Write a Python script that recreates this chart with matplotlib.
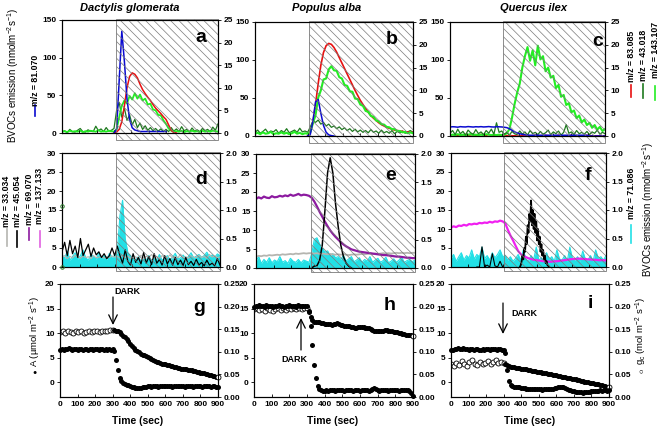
import numpy as np
import matplotlib
matplotlib.use("Agg")
import matplotlib.pyplot as plt
from matplotlib.patches import Rectangle, FancyArrowPatch
from matplotlib.lines import Line2D
from matplotlib.ticker import FormatStrFormatter

plt.rcParams['font.family'] = ['Liberation Sans', 'DejaVu Sans']
plt.rcParams['font.weight'] = 'bold'
plt.rcParams['mathtext.default'] = 'regular'
plt.rcParams['hatch.linewidth'] = 0.5
plt.rcParams['hatch.color'] = '#7a7a7a'

# ---------------- data ----------------
dark_start = 310
species = ["Dactylis glomerata", "Populus alba", "Quercus ilex"]

# Row 1 (left axis: nmol m-2 s-1 0-150 ; right axis 0-25), 15 s sampling
a_blue_start = 300
a_blue = [0, 5, 70, 135, 95, 45, 18, 7, 4, 3, 2, 2, 2, 2, 2, 2, 2, 2, 2, 2, 2]
a_red_start = 300
a_red = [0, 0.2, 0.8, 2.5, 6, 10, 12.5, 13.3, 13, 12.2, 10.8, 9.6, 8.7, 7.9, 7.2, 6.3,
         5.5, 4.9, 4.3, 3.6, 3.0, 1.8, 0.6, 0.1, 0]
a_lgreen = [0.3, 0.4, 0.2, 0.5, 0.3, 0.4, 0.3, 0.5, 0.2, 0.4, 0.3, 0.5, 0.4, 0.3, 0.6, 0.3, 0.4, 0.3, 0.5, 0.4, 0.3,
            0.8, 3.5, 6.0, 7.2, 6.5, 8.2, 7.4, 8.8, 7.6, 8.5, 7.2, 7.6, 6.3, 6.5, 5.2, 5.0, 4.0, 3.9, 2.8, 2.0,
            1.0, 0.5, 0.3,
            0.4, 0.3, 0.5, 0.2, 0.4, 0.3, 0.5, 0.3, 0.4, 0.2, 0.5, 0.3, 0.4, 0.3, 0.5, 0.4, 0.3]
a_dgreen = [0.2, 0.5, 0.1, 0.8, 0.3, 0.2, 0.6, 1.0, 0.3, 0.2, 0.7, 0.4, 0.3, 1.5, 0.5, 0.9, 0.3, 1.2, 0.4, 0.6, 1.0,
            5.0, 6.8, 3.5, 5.5, 2.8, 4.0, 1.8, 3.0, 1.2, 2.2, 0.8, 1.6, 0.6, 1.2, 0.5, 1.0, 0.4, 0.9, 0.3, 0.8,
            0.3, 1.2, 0.4,
            0.9, 0.3, 1.4, 0.5, 0.8, 0.2, 1.1, 0.4, 0.7, 0.3, 1.0, 0.5, 0.8, 0.3, 1.3, 0.6, 2.0]

b_blue_start = 300
b_blue = [0, 2, 20, 45, 48, 30, 14, 5, 1.5, 0.5, 0]
b_red_start = 300
b_red = [0, 1.0, 3.0, 7.0, 11.5, 15.5, 18.3, 19.8, 20.3, 20.1, 19.4, 18.4, 17.2, 16.0, 14.8, 13.6, 12.4,
         11.2, 10.0, 8.9, 7.8, 6.9, 6.0, 5.2, 4.5, 3.9, 3.4, 2.9, 2.5, 2.2, 1.9, 1.7, 1.5, 1.3, 1.2,
         1.1, 1.0, 0.9, 0.9, 0.8, 0.8]
b_lgreen = [0.5, 0.7, 0.4, 0.8, 0.5, 0.6, 0.9, 0.4, 0.6, 0.5, 0.8, 0.5, 0.7, 0.4, 0.6, 0.9, 0.5, 0.7, 0.4, 0.6, 0.5,
            0.8, 2.8, 4.6, 8.4, 10.0, 12.4, 12.6, 14.6, 15.3, 14.4, 14.3, 12.9, 12.6, 11.2, 11.0, 9.8, 9.7,
            8.2, 8.1, 6.9, 6.6, 5.5, 5.3, 4.4, 4.2, 3.4, 3.2, 2.6, 2.5, 2.0, 1.9, 1.5, 1.5, 1.1, 1.1, 0.8,
            0.9, 0.6, 0.8, 0.6]
b_dgreen = [0.8, 1.3, 0.6, 1.0, 1.5, 0.7, 1.1, 0.9, 1.4, 0.6, 1.2, 0.8, 1.6, 0.7, 1.0, 1.3, 0.8, 1.7, 0.9, 1.1, 0.8,
            2.0, 3.3, 3.0, 3.5, 2.6, 3.0, 2.2, 2.6, 1.9, 2.2, 1.6, 2.0, 1.4, 1.8, 1.2, 1.6, 1.0, 1.5, 0.9, 1.3,
            0.8, 1.2, 0.7, 1.4, 0.8, 1.1, 0.6, 1.3, 0.7, 1.0, 0.6, 1.2, 0.5, 1.0, 0.7, 1.1, 0.6, 0.9, 1.2, 0.8]

c_blue = [11.8, 12.2, 12.0, 11.6, 12.3, 12.0, 11.9, 12.4, 12.1, 11.8, 12.2, 12.0, 12.3, 11.9, 12.1, 12.4,
          12.0, 11.8, 12.2, 12.1, 11.9, 11.5, 11.0, 9.5, 7.5, 5.5, 4.0, 3.0, 2.2, 1.6, 1.2,
          1.0, 1.0, 1.0, 1.0, 1.0, 1.0, 1.0, 1.0, 1.0, 1.0, 1.0, 1.0, 1.0, 1.0, 1.0, 1.0, 1.0, 1.0,
          1.0, 1.0, 1.0, 1.0, 1.0, 0, 0, 0, 0, 0, 0, 0]
c_red = [0.1, 0.3, 0.2, 0.1, 0.3, 0.2, 0.4, 0.1, 0.2, 0.3, 0.1, 0.2, 0.4, 0.2, 0.1, 0.3, 0.2, 0.1, 0.3, 0.2, 0.1,
         0.2, 0.1, 0.2, 0.1, 0.1, 0.2, 0.1, 0.1, 0.2, 0.1, 0.1, 0.1, 0.2, 0.1, 0.1, 0.1, 0.2, 0.1, 0.1, 0.1,
         0.1, 0.2, 0.1, 0.1, 0.1, 0.1, 0.2, 0.1, 0.1, 0.1, 0.1, 0.1, 0.2, 0.1, 0.1, 0.1, 0.1, 0.1, 0.1, 0.1]
c_lgreen = [0.2, 0.3, 0.2, 0.4, 0.2, 0.3, 0.2, 0.3, 0.4, 0.2, 0.3, 0.2, 0.3, 0.2, 0.4, 0.3, 0.2, 0.3, 0.2, 0.3, 0.2,
            0.3, 0.6, 1.5, 4.0, 7.0, 9.5, 11.5, 15.0, 17.5, 19.5, 16.5, 18.8, 15.5, 19.8, 16.8, 17.5, 14.2,
            15.0, 12.8, 13.2, 10.5, 11.2, 8.6, 9.0, 6.8, 7.2, 5.2, 5.6, 3.9, 4.5, 3.0, 3.6, 2.4, 2.9, 1.8,
            2.4, 1.4, 2.0, 1.1, 1.5]
c_dgreen = [0.6, 1.2, 0.3, 1.5, 0.5, 1.0, 0.2, 1.3, 0.7, 0.4, 1.4, 0.5, 0.9, 0.3, 1.2, 0.6, 1.5, 0.4, 2.9, 0.8, 1.1,
            0.4, 0.8, 0.2, 1.0, 0.5, 0.3, 1.1, 0.4, 0.9, 0.2, 1.2, 0.5, 0.8, 0.3, 1.0, 0.4, 0.7, 1.3, 0.3, 0.9,
            0.5, 1.1, 0.2, 0.8, 2.5, 0.6, 0.9, 0.3, 1.2, 0.5, 0.8, 0.4, 1.0, 0.3, 0.9, 0.6, 1.3, 0.4, 0.8, 0.5]

# Row 2 (left axis 0-30 ; right axis 0-2.0), 15 s sampling
d_cyan = [0.22, 0.15, 0.28, 0.12, 0.18, 0.25, 0.14, 0.2, 0.3, 0.16, 0.12, 0.22, 0.18, 0.14, 0.25, 0.16, 0.2,
          0.13, 0.24, 0.17, 0.2,
          0.25, 0.9, 1.17, 0.5, 0.25, 0.2, 0.15, 0.12, 0.18, 0.1, 0.14, 0.12, 0.2, 0.1, 0.16, 0.13, 0.22,
          0.12, 0.15, 0.2, 0.13, 0.17, 0.24, 0.14, 0.16, 0.21, 0.15, 0.18, 0.25, 0.16, 0.19, 0.22, 0.17,
          0.2, 0.26, 0.18, 0.21, 0.17, 0.23, 0.2]
d_black = [4.0, 6.5, 3.0, 7.0, 3.5, 5.5, 2.5, 7.5, 3.0, 4.5, 6.0, 2.8, 5.0, 3.2, 4.0, 2.5, 3.5, 2.2, 3.0, 5.0, 3.0,
           5.5, 3.0, 1.0, 4.5, 1.5, 0.5, 3.5, 1.2, 2.5, 0.8, 3.8, 1.0, 2.8, 0.6, 3.5, 1.0, 2.0, 0.5, 3.0, 0.8,
           2.2, 0.5, 2.5, 0.6, 1.8, 0.4, 2.5, 0.6, 1.5, 0.4, 2.0, 0.5, 1.2, 0.3, 1.8, 0.5, 1.0, 0.3, 2.2, 0.5]
d_gray = [2.5, 3.0, 2.2, 2.8, 2.4, 3.1, 2.6, 2.3, 2.9, 2.5, 2.7, 2.2, 3.0, 2.4, 2.6, 2.8, 2.3, 2.7, 2.5, 2.9, 2.6,
          2.8, 2.4, 3.2, 2.5, 2.9, 2.2, 3.0, 2.6, 2.4, 3.1, 2.3, 2.8, 2.5, 3.3, 2.4, 2.7, 2.2, 3.0, 2.6, 2.5,
          3.2, 2.3, 2.8, 2.4, 3.4, 2.5, 2.7, 2.3, 3.0, 2.6, 2.4, 3.1, 2.5, 2.8, 2.3, 3.3, 2.6, 2.9, 2.4, 2.7]
d_marks = [16, 0]

e_purple = [18.2, 18.6, 18.3, 18.8, 18.5, 18.4, 18.9, 18.6, 18.7, 19.0, 18.8, 19.1, 18.9, 19.3, 19.0, 19.2,
            19.5, 19.1, 19.3, 19.2, 19.0,
            18.5, 17.5, 16.2, 14.8, 13.5, 12.2, 11.0, 9.9, 9.0, 8.2, 7.5, 6.8, 6.2, 5.7, 5.3, 4.9, 4.7, 4.5,
            4.3, 4.2, 4.1, 4.0, 3.9, 3.8, 3.7, 3.6, 3.5, 3.4, 3.4, 3.3, 3.2, 3.1, 3.0, 3.0, 2.9, 2.8, 2.7,
            2.7, 2.6, 2.6]
e_gray = [3.0, 3.2, 3.1, 3.3, 3.2, 3.4, 3.3, 3.4, 3.5, 3.4, 3.6, 3.5, 3.6, 3.7, 3.6, 3.8, 3.7, 3.8, 3.9, 3.8, 3.9,
          3.9, 3.8, 3.9, 3.7, 3.8, 3.7, 3.6, 3.7, 3.6, 3.5, 3.6, 3.5, 3.6, 3.5, 3.4, 3.5, 3.6, 3.5, 3.6, 3.7,
          3.6, 3.7, 3.8, 3.7, 3.8, 3.7, 3.8, 3.9, 3.8, 3.9, 3.8, 3.9, 4.0, 3.9, 4.0, 3.9, 4.0, 3.9, 4.0, 4.0]
e_black_start = 315
e_black = [0.0, 0.5, 0.6, 2.0, 6.0, 15.0, 25.0, 29.0, 25.0, 17.0, 11.0, 6.0, 3.0, 1.3, 0.5, 0.0]
e_cyan = [0.12, 0.2, 0.08, 0.15, 0.1, 0.18, 0.09, 0.14, 0.11, 0.2, 0.1, 0.13, 0.08, 0.17, 0.12, 0.1, 0.15, 0.09,
          0.14, 0.12, 0.1,
          0.25, 0.5, 0.53, 0.42, 0.35, 0.28, 0.3, 0.22, 0.25, 0.18, 0.2, 0.15, 0.22, 0.12, 0.16, 0.2, 0.11,
          0.14, 0.18, 0.1, 0.15, 0.12, 0.2, 0.1, 0.14, 0.17, 0.1, 0.13, 0.19, 0.09, 0.12, 0.16, 0.1, 0.14,
          0.18, 0.1, 0.13, 0.15, 0.11, 0.14]

f_magenta = [10.4, 10.7, 10.5, 10.9, 10.8, 11.1, 10.9, 11.3, 11.2, 11.4, 11.3, 11.6, 11.5, 11.7, 11.6, 11.9,
             11.7, 12.0, 11.9, 12.2, 12.0,
             11.5, 9.8, 8.3, 7.0, 5.6, 4.2, 3.4, 2.9, 2.6, 2.3, 2.1, 1.9, 1.8, 1.7, 1.6, 1.5, 1.5, 1.4, 1.4,
             1.5, 1.5, 1.6, 1.7, 1.8, 1.9, 2.0, 2.1, 2.1, 2.2, 2.2, 2.1, 2.1, 2.0, 2.0, 1.9, 1.9, 1.8, 1.8,
             1.8, 1.7]
f_black_pre_start = 150
f_black_pre = [0, 0, 5.3, 0, 0.5, 0, 3.5, 0.3, 0, 1.5, 0]
f_black_start = 400      # 5 s sampling
f_black = [0, 0.5, 1.5, 3, 2, 5, 4, 8, 6, 11, 9, 14, 12, 17.5, 11, 15, 10, 14, 9, 12, 7, 10, 6, 8, 4, 6, 3,
           4.5, 2, 3, 1, 1.5, 0.5, 0.3, 0]
f_cyan = [0.15, 0.22, 0.1, 0.18, 0.25, 0.12, 0.2, 0.16, 0.3, 0.14, 0.22, 0.18, 0.35, 0.15, 0.2, 0.12, 0.25,
          0.16, 0.22, 0.3, 0.18,
          0.2, 0.12, 0.18, 0.1, 0.15, 0.22, 0.12, 0.3, 0.14, 0.1, 0.2, 0.13, 0.35, 0.12, 0.16, 0.1, 0.25,
          0.13, 0.18, 0.1, 0.3, 0.14, 0.12, 0.2, 0.1, 0.35, 0.15, 0.12, 0.18, 0.1, 0.28, 0.14, 0.12, 0.2,
          0.1, 0.3, 0.15, 0.18, 0.12, 0.2]

# Row 3: A (left, 10 s sampling), gc (right; 15 s before dark, 10 s after)
g_A = [6.6, 6.7, 6.6, 6.8, 6.7, 6.9, 6.7, 6.6, 6.7, 6.8, 6.6, 6.7, 6.7, 6.6, 6.8, 6.7, 6.6, 6.7, 6.7, 6.6,
       6.8, 6.7, 6.6, 6.7, 6.7, 6.6, 6.7, 6.6, 6.7, 6.6, 6.7,
       6.3, 4.5, 2.5, 0.8, 0.2, -0.2, -0.4, -0.5, -0.6, -0.8, -0.9, -1.0, -1.1, -1.2, -1.2, -1.1, -1.0,
       -1.0, -0.9, -0.8, -0.8, -0.9, -0.8, -0.7, -0.8, -0.9, -0.8, -0.7, -0.8, -0.7,
       -0.8, -0.7, -0.8, -0.9, -0.8, -0.7, -0.8, -0.8, -0.7, -0.8, -0.9, -0.8, -0.7, -0.8, -0.8, -0.9,
       -0.8, -0.7, -0.8, -0.8, -0.9, -0.8, -0.8, -0.7, -0.8, -0.9, -0.8, -0.8, -0.9, -1.0]
g_gc_pre = [0.143, 0.146, 0.142, 0.145, 0.144, 0.141, 0.145, 0.143, 0.146, 0.142, 0.144, 0.146, 0.143, 0.145,
            0.147, 0.144, 0.146, 0.147, 0.146, 0.148, 0.149]
g_gc_post = [0.149, 0.147, 0.146, 0.143, 0.140, 0.136, 0.132, 0.128, 0.123, 0.118, 0.113, 0.109, 0.105,
             0.102, 0.099, 0.096, 0.094, 0.092, 0.090, 0.088, 0.086, 0.084, 0.082, 0.080, 0.078, 0.077,
             0.075, 0.074, 0.073, 0.072, 0.071, 0.070, 0.069, 0.068, 0.067, 0.066, 0.065, 0.064, 0.063,
             0.062, 0.062, 0.061, 0.060, 0.059, 0.059, 0.058, 0.057, 0.056, 0.055, 0.054, 0.053, 0.052,
             0.051, 0.050, 0.049, 0.048, 0.047, 0.046, 0.045, 0.044]

h_A = [15.4, 15.6, 15.5, 15.7, 15.5, 15.6, 15.4, 15.7, 15.6, 15.5, 15.6, 15.4, 15.6, 15.5, 15.7, 15.6, 15.5,
       15.4, 15.6, 15.5, 15.7, 15.6, 15.5, 15.6, 15.4, 15.7, 15.5, 15.6, 15.5, 15.6, 15.5,
       14.5, 11.5, 7.5, 3.5, 0.8, -0.8, -1.4, -1.6, -1.7, -1.7, -1.6, -1.7, -1.6, -1.5, -1.6, -1.7, -1.6,
       -1.6, -1.5, -1.6, -1.7, -1.6, -1.5, -1.6, -1.6, -1.7, -1.6, -1.5, -1.6, -1.7, -1.6, -1.6, -1.5,
       -1.6, -1.7, -1.5, -1.3, -1.1, -1.3, -1.6, -1.7, -1.6, -1.5, -1.6, -1.6, -1.7, -1.6, -1.5, -1.6,
       -1.5, -1.6, -1.7, -1.6, -1.5, -1.6, -1.6, -1.6, -1.7, -2.2, -2.8]
h_gc_pre = [0.194, 0.197, 0.192, 0.195, 0.191, 0.196, 0.193, 0.190, 0.195, 0.197, 0.192, 0.196, 0.193, 0.197,
            0.194, 0.198, 0.195, 0.197, 0.194, 0.197, 0.196]
h_gc_post = [0.188, 0.176, 0.170, 0.167, 0.166, 0.166, 0.165, 0.164, 0.163, 0.162, 0.162, 0.161, 0.161,
             0.160, 0.161, 0.162, 0.163, 0.162, 0.160, 0.159, 0.158, 0.157, 0.156, 0.156, 0.155, 0.154,
             0.153, 0.153, 0.154, 0.155, 0.155, 0.154, 0.153, 0.152, 0.152, 0.150, 0.148, 0.147, 0.146,
             0.145, 0.145, 0.146, 0.147, 0.148, 0.148, 0.147, 0.146, 0.145, 0.144, 0.144, 0.143, 0.142,
             0.141, 0.140, 0.139, 0.138, 0.138, 0.137, 0.137, 0.136]

i_A = [6.5, 6.6, 6.8, 6.7, 6.9, 6.8, 6.7, 6.9, 6.8, 6.7, 6.6, 6.8, 6.7, 6.6, 6.7, 6.8, 6.6, 6.5, 6.7, 6.6,
       6.8, 6.7, 6.6, 6.7, 6.8, 6.7, 6.6, 6.8, 6.7, 6.6, 6.5,
       6.0, 2.5, 0.2, -0.5, -0.8, -0.9, -0.9, -1.0, -1.0, -1.1, -1.2, -1.2, -1.3, -1.3, -1.4, -1.3, -1.4,
       -1.4, -1.3, -1.4, -1.4, -1.5, -1.4, -1.4, -1.3, -1.4, -1.4, -1.3, -1.2, -1.1, -1.0, -0.9, -0.9,
       -1.0, -1.1, -1.3, -1.5, -1.6, -1.7, -1.8, -1.9, -1.9, -2.0, -2.0, -2.1, -2.0, -2.0, -1.9, -1.9,
       -1.8, -1.8, -1.7, -1.7, -1.7, -1.6, -1.7, -1.6, -1.6, -1.7, -1.6]
i_gc_pre = [0.072, 0.068, 0.076, 0.070, 0.079, 0.073, 0.069, 0.077, 0.081, 0.074, 0.070, 0.078, 0.072, 0.075,
            0.080, 0.073, 0.077, 0.081, 0.076, 0.078, 0.075]
i_gc_post = [0.072, 0.070, 0.068, 0.067, 0.066, 0.066, 0.065, 0.065, 0.064, 0.063, 0.062, 0.062, 0.061,
             0.060, 0.059, 0.058, 0.058, 0.057, 0.056, 0.055, 0.055, 0.054, 0.053, 0.052, 0.051, 0.051,
             0.050, 0.049, 0.048, 0.048, 0.047, 0.046, 0.045, 0.044, 0.044, 0.043, 0.042, 0.041, 0.040,
             0.040, 0.039, 0.038, 0.037, 0.036, 0.035, 0.034, 0.033, 0.033, 0.032, 0.031, 0.030, 0.029,
             0.029, 0.028, 0.027, 0.026, 0.025, 0.024, 0.023, 0.022]

# colours
BLUE, RED, LGREEN, DGREEN = '#0a0ad0', '#e81010', '#22ee22', '#1f7a1f'
GRAY, PURPLE, MAGENTA, CYAN = '#b5b5b0', '#8c1aa0', '#f020f0', '#22e0e6'

# ---------------- figure ----------------
W, H = 661, 429
fig = plt.figure(figsize=(W / 100, H / 100), dpi=100)
fig.patch.set_facecolor('white')


def fx(x):
    return x / W


def fy(y):
    return 1 - y / H


def tt(start, vals, step=15):
    return start + step * np.arange(len(vals))


def make_pair(x0, y0, x1, y1):
    ax = fig.add_axes([x0 / W, 1 - y1 / H, (x1 - x0) / W, (y1 - y0) / H])
    ax2 = ax.twinx()
    ax.set_zorder(ax2.get_zorder() + 1)
    ax.patch.set_visible(False)
    ax.set_xlim(0, 900)
    for a in (ax, ax2):
        for s in a.spines.values():
            s.set_linewidth(0.8)
    return ax, ax2


def style(ax, ax2, ylim, yt, ylim2, yt2, fmt2, xlab):
    ax.set_ylim(*ylim)
    ax.set_yticks(yt)
    ax2.set_ylim(*ylim2)
    ax2.set_yticks(yt2)
    ax2.yaxis.set_major_formatter(FormatStrFormatter(fmt2))
    ax.set_xticks(range(0, 901, 100))
    ax.tick_params(axis='x', direction='in', length=2.5, width=0.6, labelsize=6, pad=3,
                   labelbottom=xlab)
    ax.tick_params(axis='y', direction='out', length=2.5, width=0.6, labelsize=6, pad=1.5)
    ax2.tick_params(axis='y', direction='out', length=2.5, width=0.6, labelsize=6, pad=1.5)


def hatch(ax, y0, y1):
    r = Rectangle((dark_start, y0), 900 - dark_start, y1 - y0, transform=ax.get_xaxis_transform(),
                  facecolor='none', edgecolor='#7a7a7a', hatch='\\\\\\\\', lw=0.6,
                  clip_on=False, zorder=2.4)
    ax.add_patch(r)


row1 = [(62, 20, 218, 133), (255, 22, 413, 136), (450, 22, 605, 136)]
row2 = [(62, 153, 220, 267), (256, 154, 415, 268), (451, 153, 606, 267)]
row3 = [(60, 284, 218, 397), (254, 284, 413, 397), (451, 284, 609, 397)]

# ---- row 1 ----
axs1 = [make_pair(*b) for b in row1]
for ax, ax2 in axs1:
    style(ax, ax2, (0, 150), [0, 50, 100, 150], (0, 25), [0, 5, 10, 15, 20, 25], '%d', False)
    hatch(ax, -0.062, 1.01)

ax, ax2 = axs1[0]
ax2.plot(tt(0, a_dgreen), a_dgreen, color=DGREEN, lw=0.9)
ax2.plot(tt(0, a_lgreen), a_lgreen, color=LGREEN, lw=1.3)
ax2.plot(tt(a_red_start, a_red), a_red, color=RED, lw=1.1)
ax.plot(tt(a_blue_start, a_blue), a_blue, color=BLUE, lw=1.1)

ax, ax2 = axs1[1]
ax2.plot(tt(0, b_dgreen), b_dgreen, color=DGREEN, lw=0.9)
ax2.plot(tt(b_red_start, b_red), b_red, color=RED, lw=1.2)
ax2.plot(tt(0, b_lgreen), b_lgreen, color=LGREEN, lw=1.5)
ax.plot(tt(b_blue_start, b_blue), b_blue, color=BLUE, lw=1.1)

ax, ax2 = axs1[2]
ax2.plot(tt(0, c_red), c_red, color=RED, lw=0.8)
ax2.plot(tt(0, c_lgreen), c_lgreen, color=LGREEN, lw=1.5)
ax2.plot(tt(0, c_dgreen), c_dgreen, color=DGREEN, lw=0.9)
ax.plot(tt(0, c_blue), c_blue, color=BLUE, lw=1.1)

# ---- row 2 ----
axs2 = [make_pair(*b) for b in row2]
for ax, ax2 in axs2:
    style(ax, ax2, (0, 30), [0, 5, 10, 15, 20, 25, 30], (0, 2), [0, 0.5, 1.0, 1.5, 2.0], '%.1f', False)
    hatch(ax, -0.035, 1.012)

ax, ax2 = axs2[0]
ax2.fill_between(tt(0, d_cyan), 0, d_cyan, color=CYAN, lw=0)
ax2.plot(tt(0, d_cyan), d_cyan, color=CYAN, lw=0.8)
ax.plot(tt(0, d_gray), d_gray, color=GRAY, lw=0.8)
ax.plot(tt(0, d_black), d_black, color='black', lw=0.9)
ax.plot([0] * len(d_marks), d_marks, 'o', mfc='none', mec='#2a7a2a', ms=2.5, mew=0.7, clip_on=False,
        zorder=5)

ax, ax2 = axs2[1]
ax2.fill_between(tt(0, e_cyan), 0, e_cyan, color=CYAN, lw=0)
ax2.plot(tt(0, e_cyan), e_cyan, color=CYAN, lw=0.8)
ax.plot(tt(0, e_gray), e_gray, color=GRAY, lw=1.3)
ax.plot(tt(0, e_purple), e_purple, color=PURPLE, lw=1.6)
ax.plot(tt(e_black_start, e_black), e_black, color='black', lw=1.1)

ax, ax2 = axs2[2]
ax2.fill_between(tt(0, f_cyan), 0, f_cyan, color=CYAN, lw=0)
ax2.plot(tt(0, f_cyan), f_cyan, color=CYAN, lw=0.8)
ax.plot(tt(0, f_magenta), f_magenta, color=MAGENTA, lw=1.6)
ax.plot(tt(f_black_pre_start, f_black_pre), f_black_pre, color='black', lw=0.8)
ax.plot(tt(f_black_start, f_black, 5), f_black, color='black', lw=1.3)

# ---- row 3 ----
axs3 = [make_pair(*b) for b in row3]
for ax, ax2 in axs3:
    style(ax, ax2, (-3, 20), [0, 5, 10, 15, 20], (0, 0.25), [0, 0.05, 0.10, 0.15, 0.20, 0.25], '%.2f', True)

for (ax, ax2), A, pre, post in zip(axs3, [g_A, h_A, i_A], [g_gc_pre, h_gc_pre, i_gc_pre],
                                    [g_gc_post, h_gc_post, i_gc_post]):
    ax2.plot(tt(0, pre), pre, 'o', mfc='white', mec='black', ms=3.6, mew=0.6)
    tp = tt(310, post, 10)
    ax2.plot(tp[:-1], post[:-1], 'o', color='black', ms=3.6, mew=0)
    ax2.plot(tp[-1:], post[-1:], 'o', mfc='white', mec='black', ms=3.6, mew=0.6, clip_on=False, zorder=4)
    ax.plot(tt(0, A, 10), A, 'o', color='black', ms=3.6, mew=0, clip_on=False)

# ---------------- texts ----------------
for x, y, s in [(130, 8, species[0]), (327, 8, species[1]), (534, 8, species[2])]:
    fig.text(fx(x), fy(y), s, fontsize=8, fontweight='bold', style='italic', ha='center', va='center')

for x, y, s in [(201, 38, 'a'), (392, 39, 'b'), (598, 42, 'c'), (201, 179, 'd'), (391, 176, 'e'),
                (588, 175, 'f'), (199, 307, 'g'), (390, 305, 'h'), (590, 304, 'i')]:
    fig.text(fx(x), fy(y), s, fontsize=14, fontweight='bold', ha='center', va='center')

for x in (138, 333, 530):
    fig.text(fx(x), fy(421), 'Time (sec)', fontsize=7.5, fontweight='bold', ha='center', va='center')

bvoc = 'BVOCs emission (nmolm$^{-2}$s$^{-1}$)'
fig.text(fx(13), fy(76), bvoc, rotation=90, fontsize=7, fontweight='normal', ha='center', va='center')
fig.text(fx(648), fy(210), bvoc, rotation=90, fontsize=7, fontweight='normal', ha='center', va='center')


def legend_item(x, ytext, y0, y1, label, color, lw=1.2):
    fig.text(fx(x), fy(ytext), label, rotation=90, fontsize=6.3, ha='center', va='center')
    fig.add_artist(Line2D([fx(x), fx(x)], [fy(y0), fy(y1)], color=color, lw=lw,
                          transform=fig.transFigure))


legend_item(35, 80, 105, 116, 'm/z = 81.070', BLUE)
legend_item(631, 56, 85, 97, 'm/z = 83.085', RED)
legend_item(643, 55, 84, 98, 'm/z = 43.018', DGREEN)
legend_item(655, 50, 86, 100, 'm/z = 143.107', LGREEN)
legend_item(7, 201, 229, 246, 'm/z = 33.034', GRAY)
legend_item(17, 201, 231, 247, 'm/z = 45.054', 'black')
legend_item(29, 199, 228, 240, 'm/z = 69.070', PURPLE)
legend_item(40, 196, 231, 247, 'm/z = 137.133', '#e060e0')
legend_item(631, 193, 225, 243, 'm/z = 71.086', CYAN)

fig.text(fx(35), fy(331), 'A (µmol m$^{-2}$ s$^{-1}$)', rotation=90, fontsize=6.8, fontweight='normal',
         ha='center', va='center')
fig.text(fx(35), fy(373), '●', fontsize=5, ha='center', va='center')
fig.text(fx(641), fy(331), 'g$_c$ (mol m$^{-2}$ s$^{-1}$)', rotation=90, fontsize=6.8, fontweight='normal',
         ha='center', va='center')
fig.text(fx(641), fy(372), '○', fontsize=5.5, ha='center', va='center')


def dark_arrow(x, y_tail, y_tip, tx, ty):
    fig.add_artist(FancyArrowPatch((fx(x), fy(y_tail)), (fx(x), fy(y_tip)), transform=fig.transFigure,
                                   arrowstyle='->,head_length=0.45,head_width=0.22', mutation_scale=14,
                                   lw=0.9, color='black', shrinkA=0, shrinkB=0))
    fig.text(fx(tx), fy(ty), 'DARK', fontsize=6.5, fontweight='bold', ha='center', va='center')


dark_arrow(113, 297, 325, 127, 291)
dark_arrow(301, 350, 318, 294, 360)
dark_arrow(503, 303, 334, 524, 314)

fig.savefig('out.png', dpi=100, facecolor='white')
